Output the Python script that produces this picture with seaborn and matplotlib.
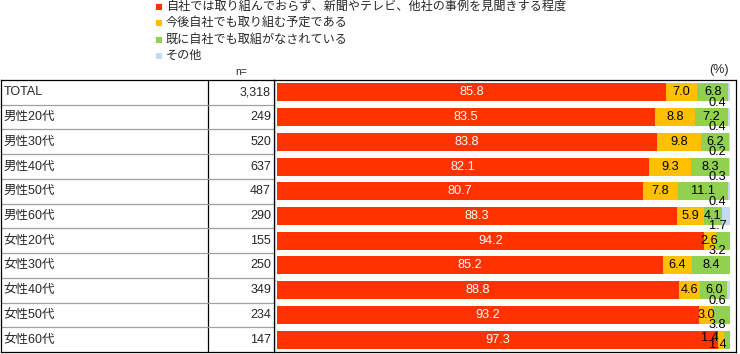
import matplotlib
matplotlib.use("Agg")
import matplotlib.pyplot as plt
from matplotlib.patches import Rectangle
import seaborn as sns
import numpy as np

categories = ["TOTAL", "男性20代", "男性30代", "男性40代", "男性50代", "男性60代",
              "女性20代", "女性30代", "女性40代", "女性50代", "女性60代"]
n_values = ["3,318", "249", "520", "637", "487", "290", "155", "250", "349", "234", "147"]
series_names = ["自社では取り組んでおらず、新聞やテレビ、他社の事例を見聞きする程度",
                "今後自社でも取り組む予定である",
                "既に自社でも取組がなされている",
                "その他"]
not_doing = [85.8, 83.5, 83.8, 82.1, 80.7, 88.3, 94.2, 85.2, 88.8, 93.2, 97.3]
planning = [7.0, 8.8, 9.8, 9.3, 7.8, 5.9, 2.6, 6.4, 4.6, 3.0, 1.4]
already = [6.8, 7.2, 6.2, 8.3, 11.1, 4.1, 3.2, 8.4, 6.0, 3.8, 1.4]
other = [0.4, 0.4, 0.2, 0.3, 0.4, 1.7, 0.0, 0.0, 0.6, 0.0, 0.0]

colors = ["#FF3300", "#FFC000", "#92D050", "#C5D9F1"]
label_colors = ["white", "black", "black", "black"]

sns.set_style("white")
plt.rcParams["font.family"] = ["Liberation Sans", "Noto Sans CJK JP", "DejaVu Sans"]

W, H = 740, 354
fig = plt.figure(figsize=(W / 100, H / 100), dpi=100)


def fx(px):
    return px / W


def fy(py):
    return 1 - py / H


top_px, bot_px = 80, 352
# bar axes
bx0, bx1 = 274, 736
zero_px, hundred_px = 277, 730
ppu = (hundred_px - zero_px) / 100.0
ax = fig.add_axes([fx(bx0), fy(bot_px), (bx1 - bx0) / W, (bot_px - top_px) / H])

series = [not_doing, planning, already, other]
arr = np.array(series)
cum = np.cumsum(arr, axis=0)
# draw from the largest cumulative down so the stack shows
for k in range(3, -1, -1):
    sns.barplot(x=list(cum[k]), y=categories, order=categories, orient="h",
                color=colors[k], saturation=1, width=0.73, linewidth=0,
                ax=ax)

ax.set_xlim((bx0 - zero_px) / ppu, (bx1 - zero_px) / ppu)
ax.set_ylim(len(categories) - 0.5, -0.5)
ax.set_xticks([])
ax.set_yticks([])
ax.set_xlabel("")
ax.set_ylabel("")
for s in ax.spines.values():
    s.set_visible(True)
    s.set_color("black")
    s.set_linewidth(0.9)

# value labels
nrows = len(categories)
for i in range(nrows):
    vals = arr[:, i]
    nz = [k for k in range(4) if vals[k] > 0]
    last = nz[-1]
    for k in nz:
        start = cum[k, i] - vals[k]
        end = cum[k, i]
        if k == last and vals[k] < 4:
            off = 0.42 if i < nrows - 1 else 0.2
            ax.text(end - 0.8, i + off, f"{vals[k]:.1f}", ha="right", va="center",
                    fontsize=9.2, color=label_colors[k], clip_on=False)
        elif vals[k] < 2:
            ax.text(end - 1.3, i - 0.05, f"{vals[k]:.1f}", ha="right", va="center",
                    fontsize=9.2, color=label_colors[k], clip_on=False)
        else:
            ax.text(start + vals[k] / 2, i, f"{vals[k]:.1f}", ha="center", va="center",
                    fontsize=9.2, color=label_colors[k], clip_on=False)

# table axes
tx0, tx1 = 1, 274
tax = fig.add_axes([fx(tx0), fy(bot_px), (tx1 - tx0) / W, (bot_px - top_px) / H])
tax.set_xlim(0, tx1 - tx0)
tax.set_ylim(nrows - 0.5, -0.5)
tax.set_xticks([])
tax.set_yticks([])
for s in tax.spines.values():
    s.set_visible(True)
    s.set_color("black")
    s.set_linewidth(0.9)
tax.axvline(208 - tx0, color="black", lw=0.9)
for i in range(nrows - 1):
    tax.axhline(i + 0.5, color="#A0A0A0", lw=0.9)
for i, (c, n) in enumerate(zip(categories, n_values)):
    tax.text(2.5, i, c, ha="left", va="center", fontsize=9)
    tax.text(tx1 - tx0 - 3, i, n, ha="right", va="center", fontsize=9)

# header texts
fig.text(fx(241), fy(72), "n=", ha="center", va="center", fontsize=7.5)
fig.text(fx(719), fy(70), "(%)", ha="center", va="center", fontsize=9)

# legend
leg_y = [7, 23, 39.5, 56]
for k, (name, yy) in enumerate(zip(series_names, leg_y)):
    fig.patches.append(Rectangle((fx(156), fy(yy + 3)), 6 / W, 6 / H,
                                 transform=fig.transFigure, facecolor=colors[k],
                                 edgecolor="none"))
    fig.text(fx(166), fy(yy), name, ha="left", va="center", fontsize=8.7)

fig.savefig("out.png", dpi=100)
